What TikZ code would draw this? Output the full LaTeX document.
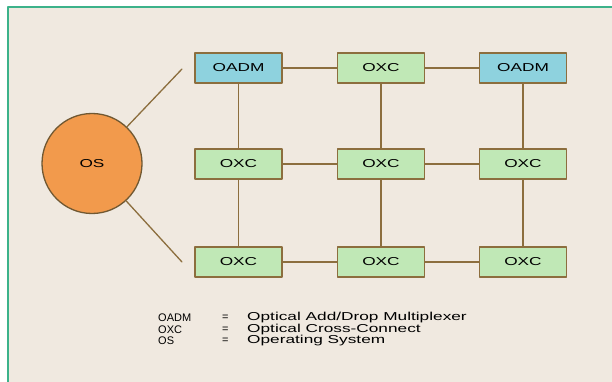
\documentclass[tikz,border=0pt]{standalone}
\usepackage{fontspec}
\newfontfamily\boxfont[FakeStretch=1.5]{Liberation Sans}
\newfontfamily\abbrfont{Liberation Sans}
\definecolor{framegreen}{RGB}{60,178,138}
\definecolor{paper}{RGB}{240,233,224}
\definecolor{oadmblue}{RGB}{142,210,222}
\definecolor{oxcgreen}{RGB}{192,232,182}
\definecolor{osorange}{RGB}{242,154,76}
\definecolor{wire}{RGB}{140,110,62}
\begin{document}
\begin{tikzpicture}[x=1pt, y=-1pt, line join=round, line cap=round,
	font=\boxfont\fontsize{11.5}{13}\selectfont,
	nodebox/.style={draw=wire, line width=1.3pt, minimum width=87pt, minimum height=30pt, inner sep=0pt},
	oadm/.style={nodebox, fill=oadmblue},
	oxc/.style={nodebox, fill=oxcgreen},
	link/.style={draw=wire, line width=1.3pt}]
			\useasboundingbox (0,0) rectangle (612,382);
			\clip (0,0) rectangle (612,382);
			\fill[white] (0,0) rectangle (612,382);
			\draw[framegreen, line width=2pt, fill=paper] (7.5,7) rectangle (640,400);
			
			%
			\def\xa{238.5}
			\def\xb{381}
			\def\xc{523}
			\def\ya{68}
			\def\yb{164}
			\def\yc{262}
			
			\node[oadm] (N1) at (\xa,\ya) {OADM};
			\node[oxc]  (N2) at (\xb,\ya) {OXC};
			\node[oadm] (N3) at (\xc,\ya) {OADM};
			\node[oxc]  (N4) at (\xa,\yb) {OXC};
			\node[oxc]  (N5) at (\xb,\yb) {OXC};
			\node[oxc]  (N6) at (\xc,\yb) {OXC};
			\node[oxc]  (N7) at (\xa,\yc) {OXC};
			\node[oxc]  (N8) at (\xb,\yc) {OXC};
			\node[oxc]  (N9) at (\xc,\yc) {OXC};
			
			\node[circle, draw=wire!80!black, line width=1.3pt, fill=osorange, minimum size=100pt, inner sep=0pt] (OS) at (92,163.5) {OS};
			
			\coordinate (T1) at (182,69);
			\coordinate (T2) at (182,262);
			
			\path[link] (N1) -- (N2) -- (N3) (N4) -- (N5) -- (N6) (N7) -- (N8) -- (N9)
			(N1) -- (N4) -- (N7) (N2) -- (N5) -- (N8) (N3) -- (N6) -- (N9);
			\path[link] (OS) -- (T1) (OS) -- (T2);
			
			%
			\foreach \a/\d [count=\i] in {OADM/{Optical Add/Drop Multiplexer}, OXC/{Optical Cross-Connect}, OS/{Operating System}} {
				\node[anchor=west, inner sep=0pt, font=\abbrfont\fontsize{11}{13}\selectfont] (L\i) at (158,{306.5+11.5*\i}) {\a};
				\node[anchor=west, inner sep=0pt, font=\abbrfont\fontsize{11}{13}\selectfont] (E\i) at (222,{306.5+11.5*\i}) {=};
				\node[anchor=west, inner sep=0pt] (D\i) at (247,{306.5+11.5*\i}) {\d};
			}
	\end{tikzpicture}
\end{document}
